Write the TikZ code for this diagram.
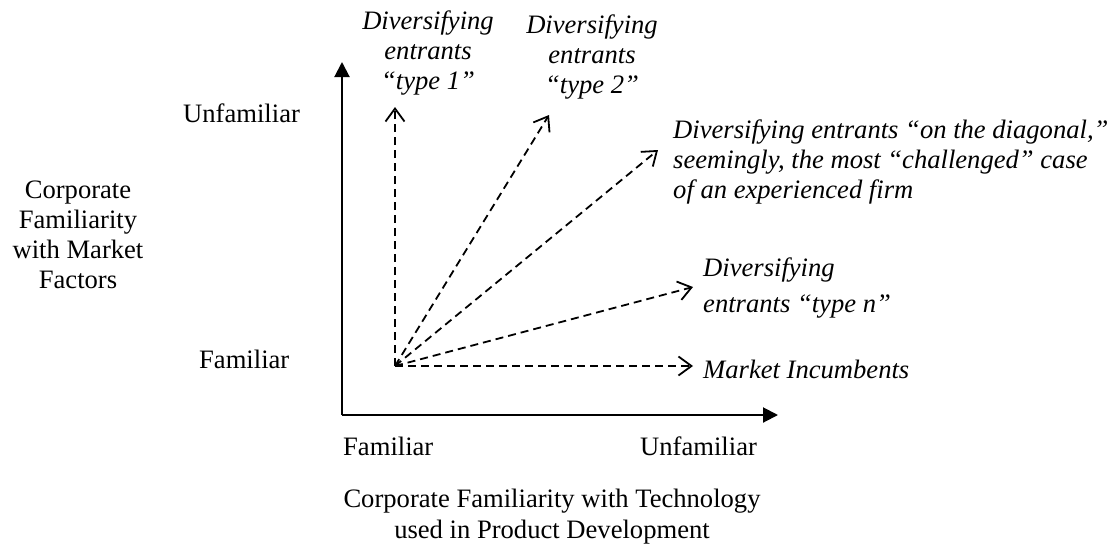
\documentclass[tikz,border=0pt]{standalone}
\usepackage{fontspec}
\setmainfont{Liberation Serif}
\usetikzlibrary{arrows.meta}
\begin{document}
\begin{tikzpicture}[x=1pt,y=-1pt,
  lbl/.style={inner sep=0pt, font=\fontsize{26.6}{30}\selectfont},
  ilbl/.style={lbl, font=\fontsize{26.6}{30}\selectfont\itshape},
  axisline/.style={line width=2pt, -{Triangle[length=15pt,width=15pt]}},
  dasharrow/.style={line width=1.8pt, dash pattern=on 8pt off 5pt,
    -{Straight Barb[length=13pt,width=19pt,line width=1.8pt]}}]
\useasboundingbox (0,0) rectangle (1115,549);
% axes
\coordinate (corner) at (342,415);
\coordinate (ytip) at (342,62);
\coordinate (xtip) at (778,415);
\draw[axisline] (corner) -- (ytip);
\draw[axisline] (corner) -- (xtip);
% axis labels (multi-line nodes: base = baseline of last line)
\node[lbl, anchor=base west] (yunf) at (183,122) {Unfamiliar};
\node[lbl, anchor=base west] (yfam) at (199,368) {Familiar};
\node[lbl, anchor=base, align=center] (ytitle) at (78,288) {Corporate\\Familiarity\\with Market\\Factors};
\node[lbl, anchor=base west] (xfam) at (343,455) {Familiar};
\node[lbl, anchor=base west] (xunf) at (640,455) {Unfamiliar};
\node[lbl, anchor=base, align=center] (xtitle) at (552,538) {Corporate Familiarity with Technology\\[1pt]used in Product Development};
% arrows
\coordinate (o) at (395,366);
\coordinate (e1) at (395,107);
\coordinate (e2) at (549,115);
\coordinate (ed) at (658,150);
\coordinate (en) at (693,287);
\coordinate (ei) at (693,366);
\draw[dasharrow] (o) -- (e1);
\draw[dasharrow] (o) -- (e2);
\draw[dasharrow] (o) -- (ed);
\draw[dasharrow] (o) -- (en);
\draw[dasharrow] (o) -- (ei);
% labels
\node[ilbl, anchor=base, align=center] (t1) at (428,89) {Diversifying\\entrants\\``type 1''};
\node[ilbl, anchor=base, align=center] (t2) at (592,93) {Diversifying\\entrants\\``type 2''};
\node[ilbl, anchor=base west, align=left] (td) at (673,198) {Diversifying entrants ``on the diagonal,''\\seemingly, the most ``challenged'' case\\of an experienced firm};
\node[ilbl, anchor=base west, align=left] (tn) at (703,312) {Diversifying\\[6pt]entrants ``type n''};
\node[ilbl, anchor=base west] (ti) at (703,378) {Market Incumbents};
\end{tikzpicture}
\end{document}
